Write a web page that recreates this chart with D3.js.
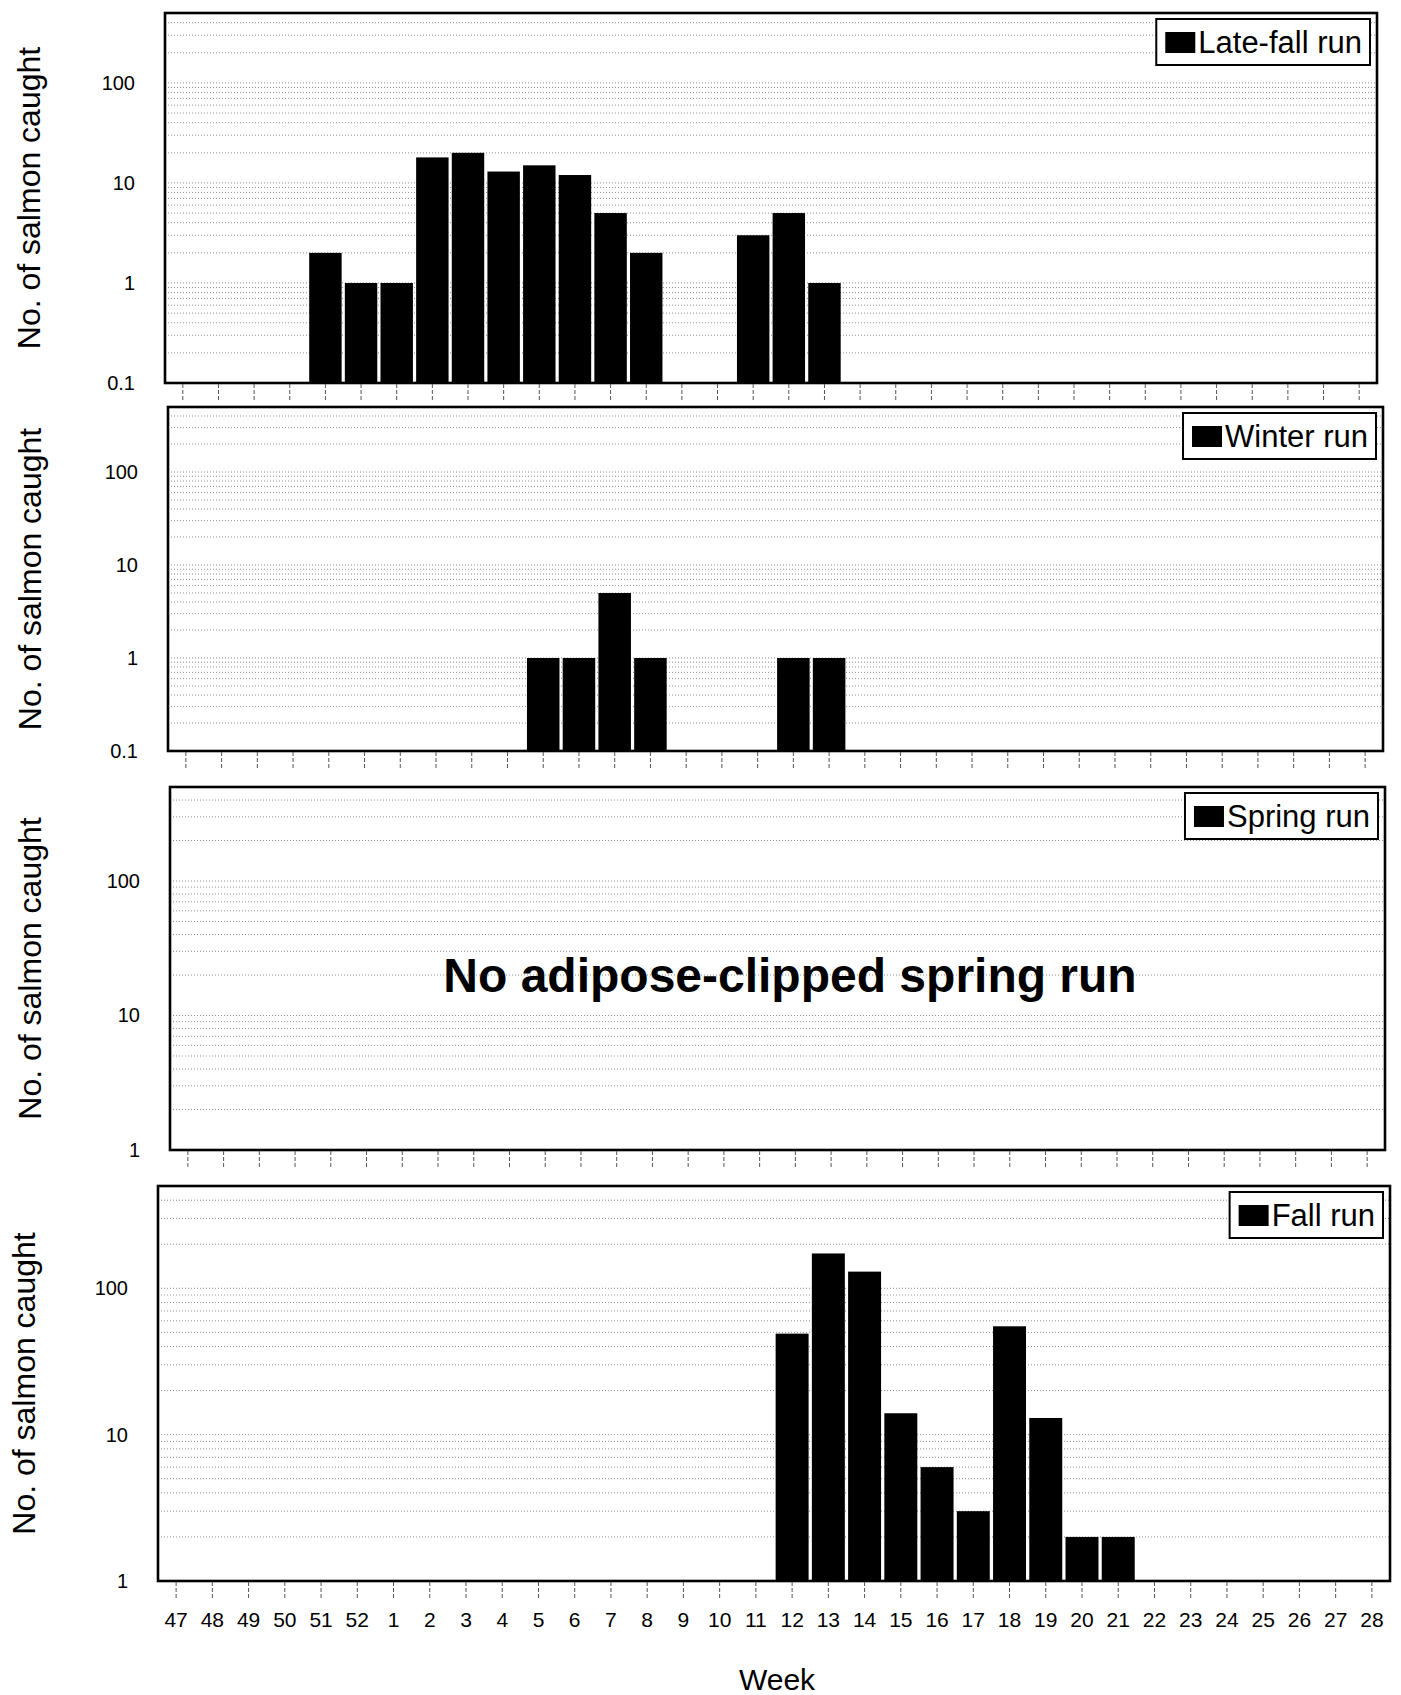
<!DOCTYPE html>
<html>
<head>
<meta charset="utf-8">
<script src="https://cdn.jsdelivr.net/npm/d3@7"></script>
<style>
  html, body { margin: 0; padding: 0; background: #fff; }
  svg { display: block; font-family: "Liberation Sans", Arial, sans-serif; }
</style>
</head>
<body>
<svg id="chart" width="1401" height="1695"></svg>
<script>
// Weekly catch of adipose-clipped salmon, by run
const weeks = ["47","48","49","50","51","52","1","2","3","4","5","6","7","8","9","10",
               "11","12","13","14","15","16","17","18","19","20","21","22","23","24",
               "25","26","27","28"];

const lateFallRun = [0,0,0,0,2,1, 1,18,20,13,15,12,5,2,0,0,3,5,1,0,0,0,0,0,0,0,0,0,0,0,0,0,0,0];
const winterRun   = [0,0,0,0,0,0, 0,0,0,0,1,1,5,1,0,0,0,1,1,0,0,0,0,0,0,0,0,0,0,0,0,0,0,0];
const springRun   = [0,0,0,0,0,0, 0,0,0,0,0,0,0,0,0,0,0,0,0,0,0,0,0,0,0,0,0,0,0,0,0,0,0,0];
const fallRun     = [0,0,0,0,0,0, 0,0,0,0,0,0,0,0,0,0,0,49,173,130,14,6,3,55,13,2,2,0,0,0,0,0,0,0];

const runNames = ["Late-fall run", "Winter run", "Spring run", "Fall run"];
const yTicksLow  = [0.1, 1, 10, 100];
const yTicksHigh = [1, 10, 100];
const yDomainLow  = [0.1, 500];
const yDomainHigh = [1, 500];
const yTitle = "No. of salmon caught";
const xTitle = "Week";
const springNote = "No adipose-clipped spring run";

const series = [lateFallRun, winterRun, springRun, fallRun];
const domains = [yDomainLow, yDomainLow, yDomainHigh, yDomainHigh];
const tickSets = [yTicksLow, yTicksLow, yTicksHigh, yTicksHigh];

// Frame of each panel's plot area
const frames = [
  { l: 165, r: 1377, t: 13,   b: 383,  titleX: 40 },
  { l: 168, r: 1383, t: 407,  b: 751,  titleX: 41 },
  { l: 170, r: 1385, t: 787,  b: 1150, titleX: 41 },
  { l: 158, r: 1390, t: 1186, b: 1581, titleX: 35 }
];

const svg = d3.select("#chart");

// Minor/major gridline values for a log axis between lo and hi
function gridValues(lo, hi) {
  const out = [];
  for (let e = Math.floor(Math.log10(lo)); e <= Math.ceil(Math.log10(hi)); e++) {
    for (let m = 1; m <= 9; m++) {
      const v = m * Math.pow(10, e);
      if (v > lo * 1.0001 && v < hi * 0.9999) out.push(v);
    }
  }
  return out;
}

frames.forEach((f, i) => {
  const g = svg.append("g");
  const values = series[i];

  const x = d3.scaleBand().domain(weeks).range([f.l, f.r]).padding(0);
  const y = d3.scaleLog().domain(domains[i]).range([f.b, f.t]);

  // gridlines
  g.append("g").selectAll("line")
    .data(gridValues(domains[i][0], domains[i][1]))
    .join("line")
    .attr("x1", f.l).attr("x2", f.r)
    .attr("y1", d => y(d)).attr("y2", d => y(d))
    .attr("stroke", "#8f8f8f")
    .attr("stroke-width", 1)
    .attr("stroke-dasharray", "1,2");

  // bars
  const bw = x.bandwidth() * 0.91;
  g.append("g").selectAll("rect")
    .data(weeks.map((w, k) => ({ w, v: values[k] })).filter(d => d.v > 0))
    .join("rect")
    .attr("x", d => x(d.w) + (x.bandwidth() - bw) / 2)
    .attr("width", bw)
    .attr("y", d => y(d.v))
    .attr("height", d => f.b - y(d.v))
    .attr("fill", "#000");

  // frame
  g.append("rect")
    .attr("x", f.l).attr("y", f.t)
    .attr("width", f.r - f.l).attr("height", f.b - f.t)
    .attr("fill", "none").attr("stroke", "#000").attr("stroke-width", 2.6);

  // y axis labels
  const yAxis = d3.axisLeft(y).tickValues(tickSets[i]).tickSize(0).tickPadding(0)
    .tickFormat(d => String(d));
  const ya = g.append("g").attr("transform", `translate(${f.l - 30},0)`).call(yAxis);
  ya.select(".domain").remove();
  ya.selectAll("text")
    .attr("font-family", "'Liberation Sans', Arial, sans-serif")
    .attr("font-size", 20).attr("fill", "#000");

  // x axis ticks (labels on the bottom panel only)
  const xAxis = d3.axisBottom(x).tickSize(16).tickPadding(14)
    .tickFormat(i === 3 ? (d => d) : () => "");
  const xa = g.append("g").attr("transform", `translate(0,${f.b + 1})`).call(xAxis);
  xa.select(".domain").remove();
  xa.selectAll(".tick line")
    .attr("stroke", "#555").attr("stroke-width", 1).attr("stroke-dasharray", "4,2");
  xa.selectAll("text")
    .attr("font-family", "'Liberation Sans', Arial, sans-serif")
    .attr("font-size", 21).attr("fill", "#000");

  // y axis title
  g.append("text")
    .attr("transform", `translate(${f.titleX},${(f.t + f.b) / 2}) rotate(-90)`)
    .attr("text-anchor", "middle")
    .attr("font-size", 32)
    .text(yTitle);

  // legend
  const lg = g.append("g");
  const label = lg.append("text").attr("font-size", 31).text(runNames[i]);
  const tw = label.node().getComputedTextLength();
  const boxW = 9 + 30 + 3 + tw + 8;
  const boxH = 46;
  const bx = f.r - 7 - boxW, by = f.t + 6;
  lg.insert("rect", "text")
    .attr("x", bx).attr("y", by).attr("width", boxW).attr("height", boxH)
    .attr("fill", "#fff").attr("stroke", "#000").attr("stroke-width", 2);
  lg.insert("rect", "text")
    .attr("x", bx + 9).attr("y", by + 13).attr("width", 30).attr("height", 21)
    .attr("fill", "#000");
  label.attr("x", bx + 9 + 30 + 3).attr("y", by + 34);

  if (i === 2) {
    g.append("text")
      .attr("x", 790).attr("y", 992)
      .attr("text-anchor", "middle")
      .attr("font-size", 48).attr("font-weight", "bold")
      .text(springNote);
  }
});

// x axis title
svg.append("text")
  .attr("x", 777).attr("y", 1690)
  .attr("text-anchor", "middle")
  .attr("font-size", 30)
  .text(xTitle);
</script>
</body>
</html>
